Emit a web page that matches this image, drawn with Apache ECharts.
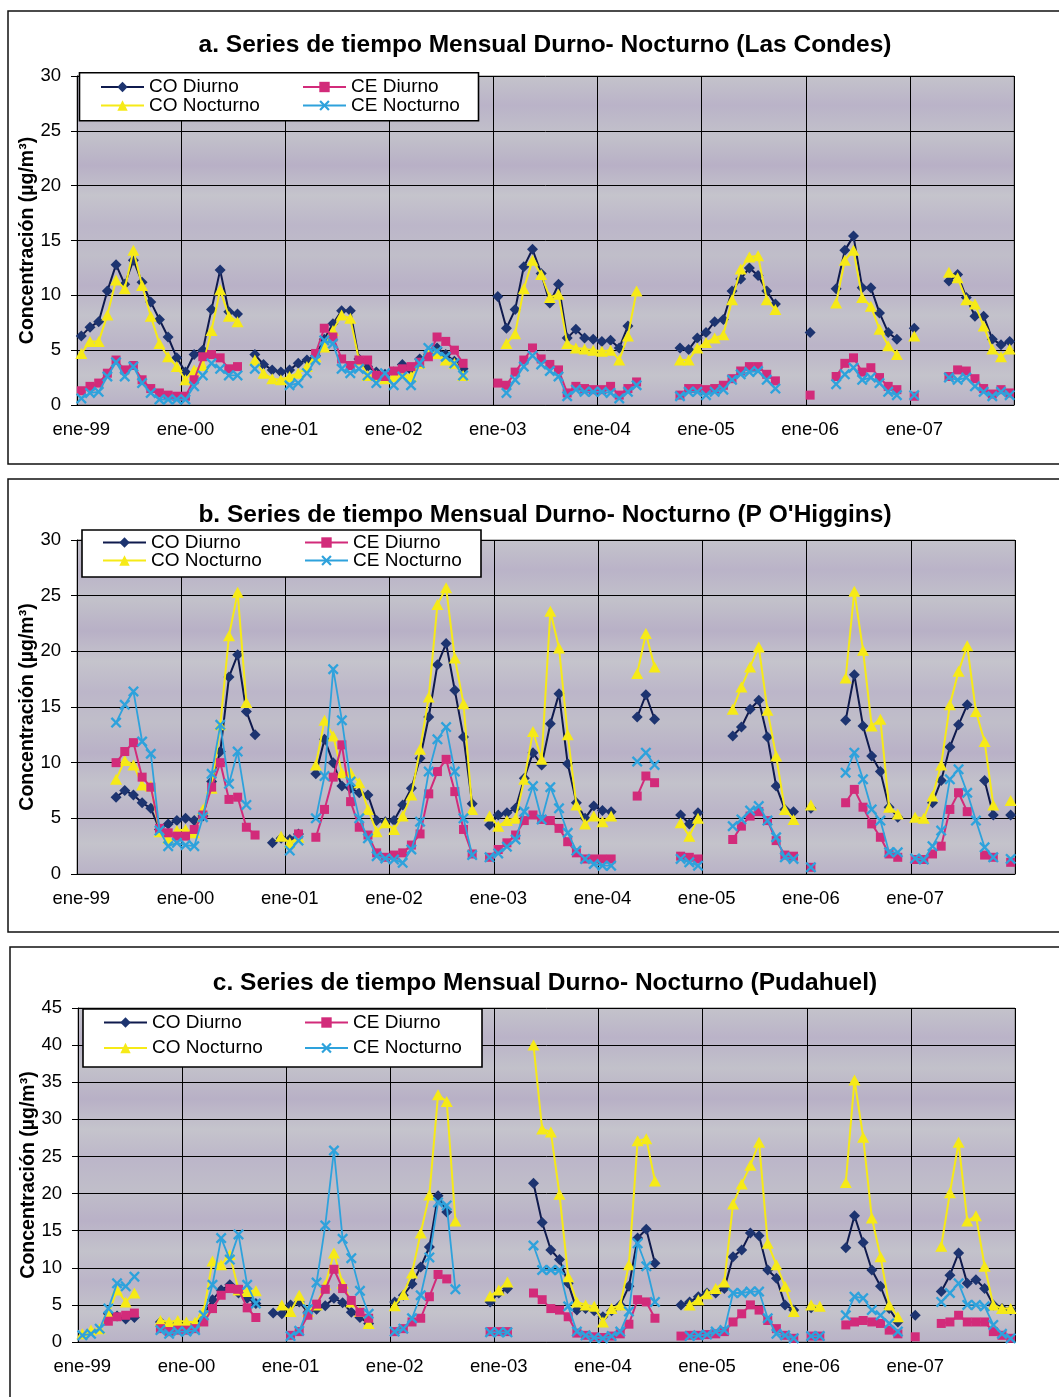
<!DOCTYPE html>
<html>
<head>
<meta charset="utf-8">
<script src="https://cdn.jsdelivr.net/npm/echarts@6/dist/echarts.min.js"></script>
<style>
  html, body { margin: 0; padding: 0; background: #ffffff; }
  #chart { width: 1059px; height: 1397px; }
</style>
</head>
<body>
<div id="chart"></div>
<script>
// Monthly day / night concentrations, January 1999 - December 2007 (null = no data)
const _ = null;
const monthNames = ['ene', 'feb', 'mar', 'abr', 'may', 'jun', 'jul', 'ago', 'sep', 'oct', 'nov', 'dic'];
const yearCodes = ['99', '00', '01', '02', '03', '04', '05', '06', '07'];
const categories = yearCodes.flatMap(y => monthNames.map(m => m + '-' + y));
const seriesNames = ['CO Diurno', 'CO Nocturno', 'CE Diurno', 'CE Nocturno'];

const titles = [
  'a. Series de tiempo Mensual Durno- Nocturno (Las Condes)',
  "b. Series de tiempo Mensual Durno- Nocturno (P O'Higgins)",
  'c. Series de tiempo Mensual Durno- Nocturno (Pudahuel)'
];
const yAxisTitle = 'Concentración (µg/m³)';
const yMaxA = 30, yMaxB = 30, yMaxC = 45, yStep = 5;

// ---- a. Las Condes ----
const coDiurnoA = [
  6.3, 7.1, 7.6, 10.4, 12.8, 11.0, 13.2, 11.2, 9.4, 7.8, 6.2, 4.3,
  3.0, 4.6, 5.0, 8.7, 12.3, 8.5, 8.3, _, 4.6, 3.7, 3.2, 3.0,
  3.2, 3.8, 4.1, 4.5, 6.0, 7.4, 8.6, 8.6, 4.2, 3.5, 3.0, 2.8,
  3.0, 3.7, 3.2, 4.2, 4.6, 5.2, 4.6, 4.0, 3.3, _, _, _,
  9.9, 7.0, 8.7, 12.6, 14.2, 12.0, 9.3, 11.0, 6.1, 6.9, 6.1, 6.0,
  5.8, 5.9, 5.2, 7.2, _, _, _, _, _, 5.2, 5.05, 6.1,
  6.6, 7.6, 7.8, 10.4, 11.5, 12.5, 11.8, 10.4, 9.2, _, _, _,
  6.6, _, _, 10.6, 14.1, 15.4, 10.7, 10.7, 8.4, 6.6, 6.0, _,
  7.0, _, _, _, 11.3, 11.9, 9.8, 8.1, 8.1, 6.0, 5.5, 5.8
];
const coNocturnoA = [
  4.7, 5.8, 5.8, 8.2, 11.4, 10.6, 14.1, 10.9, 8.1, 5.6, 4.4, 3.5,
  2.3, 3.2, 3.6, 6.8, 10.5, 8.1, 7.6, _, 4.1, 2.9, 2.4, 2.3,
  2.6, 2.9, 3.5, 4.4, 5.3, 6.8, 8.2, 7.9, 4.1, 2.7, 2.7, 2.4,
  2.6, 2.9, 2.6, 3.8, 4.9, 4.7, 4.1, 3.8, 2.7, _, _, _,
  _, 5.6, 6.5, 10.6, 13.2, 11.9, 9.8, 10.1, 5.6, 5.2, 5.1, 5.0,
  4.9, 5.0, 4.1, 6.3, 10.4, _, _, _, _, 4.1, 4.1, 5.2,
  5.7, 6.1, 6.4, 9.6, 12.4, 13.5, 13.6, 9.6, 8.7, _, _, _,
  _, _, _, 9.3, 13.2, 14.1, 9.8, 9.0, 6.9, 5.4, 4.6, _,
  6.3, _, _, _, 12.1, 11.6, 9.6, 9.2, 7.2, 5.1, 4.4, 5.1
];
const ceDiurnoA = [
  1.3, 1.7, 2.0, 2.9, 4.1, 3.2, 3.6, 2.3, 1.5, 1.1, 0.9, 0.8,
  0.8, 2.3, 4.4, 4.6, 4.3, 3.3, 3.5, _, _, _, _, _,
  _, _, _, 4.7, 7.0, 6.2, 4.2, 3.6, 4.1, 4.1, 2.7, 2.6,
  3.1, 3.3, 3.5, 3.9, 4.4, 6.2, 5.8, 5.0, 3.8, _, _, _,
  2.0, 1.8, 3.0, 4.1, 5.2, 4.2, 3.7, 3.2, 1.1, 1.7, 1.5, 1.4,
  1.4, 1.7, 0.9, 1.5, 2.1, _, _, _, _, 0.9, 1.5, 1.5,
  1.4, 1.5, 1.8, 2.4, 3.1, 3.5, 3.5, 2.8, 2.2, _, _, _,
  0.9, _, _, 2.6, 3.8, 4.3, 3.0, 3.4, 2.5, 1.7, 1.4, _,
  0.8, _, _, _, 2.6, 3.2, 3.1, 2.4, 1.5, 1.0, 1.4, 1.1
];
const ceNocturnoA = [
  0.6, 1.1, 1.2, 2.6, 3.9, 2.6, 3.5, 2.0, 1.1, 0.5, 0.5, 0.5,
  0.5, 1.7, 2.7, 3.8, 3.3, 2.7, 2.7, _, 3.3, _, _, _,
  1.8, 2.0, 2.9, 4.1, 5.9, 5.6, 3.3, 2.9, 3.3, 2.7, 2.0, 2.9,
  1.8, 2.6, 1.8, 3.8, 5.2, 4.9, 4.4, 3.8, 2.7, _, _, _,
  _, 1.1, 2.3, 3.5, 4.5, 3.7, 3.1, 2.6, 0.8, 1.4, 1.2, 1.2,
  1.2, 1.1, 0.6, 1.2, 1.8, _, _, _, _, 0.8, 1.2, 1.2,
  0.9, 1.2, 1.4, 2.3, 2.8, 3.0, 3.1, 2.3, 1.5, _, _, _,
  _, _, _, 1.9, 2.8, 3.4, 2.3, 2.5, 2.0, 1.2, 0.9, _,
  0.9, _, _, _, 2.5, 2.3, 2.5, 1.7, 1.2, 0.8, 1.2, 0.9
];

// ---- b. P O'Higgins ----
const coDiurnoB = [
  _, _, _, _, 6.9, 7.5, 7.1, 6.4, 5.9, 4.0, 4.5, 4.8,
  5.0, 4.8, 5.2, 8.3, 11.0, 17.7, 19.7, 14.6, 12.5, _, 2.8, 3.2,
  3.1, 3.6, _, 9.0, 12.1, 10.0, 7.9, 7.7, 7.3, 7.1, 4.8, 4.7,
  4.8, 6.2, 7.7, 10.4, 14.1, 18.8, 20.7, 16.5, 12.3, 6.3, _, 4.4,
  5.3, 5.5, 5.9, 8.6, 10.9, 9.8, 13.5, 16.2, 9.9, 6.4, 5.0, 6.1,
  5.7, 5.6, _, _, 14.1, 16.1, 13.9, _, _, 5.3, 4.5, 5.5,
  _, _, _, 12.4, 13.2, 14.8, 15.6, 12.3, 7.9, 5.8, 5.6, _,
  5.9, _, _, _, 13.8, 17.9, 13.3, 10.6, 9.2, 6.0, 5.1, _,
  _, _, 6.4, 8.4, 11.4, 13.4, 15.2, _, 8.4, 5.3, _, 5.3
];
const coNocturnoB = [
  _, _, _, _, 8.5, 10.2, 9.8, 8.0, 7.9, 3.8, 3.2, 3.9,
  4.0, 3.7, 5.8, 7.7, 13.4, 21.4, 25.3, 15.4, _, _, _, 3.4,
  2.8, 3.3, _, 9.8, 13.8, 12.4, 9.1, 9.1, 8.2, 5.8, 3.8, 4.6,
  4.0, 5.2, 7.1, 11.2, 15.9, 24.2, 25.7, 19.4, 15.3, 5.8, _, 5.2,
  4.3, 4.8, 5.0, 8.5, 12.8, 10.3, 23.6, 20.3, 12.5, 6.2, 4.5, 5.2,
  4.7, 5.2, _, _, 18.0, 21.6, 18.6, _, _, 4.6, 3.4, 5.0,
  _, _, _, 14.8, 16.8, 18.6, 20.4, 14.7, 10.6, 5.8, 4.9, _,
  6.2, _, _, _, 17.6, 25.4, 20.1, 13.3, 13.9, 6.0, 5.4, _,
  5.1, 5.0, 7.0, 9.8, 15.2, 18.2, 20.5, 14.6, 11.9, 6.2, _, 6.6
];
const ceDiurnoB = [
  _, _, _, _, 10.0, 11.0, 11.8, 8.7, 7.8, 4.1, 3.7, 3.4,
  3.4, 4.0, 5.3, 7.8, 10.0, 6.7, 6.9, 4.2, 3.5, _, _, _,
  _, 3.6, _, 3.3, 5.8, 8.7, 11.6, 6.5, 4.2, 3.5, 1.9, 1.5,
  1.7, 1.9, 2.6, 3.6, 7.2, 9.2, 10.3, 7.4, 4.0, 1.8, _, 1.5,
  2.2, 2.8, 3.5, 4.8, 5.3, 4.9, 4.8, 4.1, 2.9, 1.9, 1.35, 1.35,
  1.35, 1.35, _, _, 7.0, 8.8, 8.2, _, _, 1.6, 1.5, 1.35,
  _, _, _, 3.1, 4.3, 5.2, 5.6, 4.8, 3.0, 1.7, 1.6, _,
  0.6, _, _, _, 6.4, 7.6, 6.0, 4.5, 3.3, 1.8, 1.5, _,
  1.3, 1.3, 1.8, 2.5, 5.8, 7.3, 5.6, _, 1.7, 1.5, _, 1.05
];
const ceNocturnoB = [
  _, _, _, _, 13.6, 15.2, 16.4, 11.9, 10.8, 3.9, 2.5, 2.8,
  2.6, 2.5, 5.1, 9.0, 13.4, 8.1, 11.0, 6.2, _, _, _, _,
  2.1, 3.0, _, 5.0, 8.8, 18.4, 13.8, 8.3, 5.0, 3.2, 1.6, 1.4,
  1.3, 1.0, 2.2, 4.7, 9.2, 12.1, 13.2, 9.2, 5.0, 1.7, _, 1.5,
  1.85, 2.45, 3.1, 5.6, 7.9, 4.9, 7.8, 5.9, 3.7, 2.1, 1.35, 0.9,
  0.75, 0.75, _, _, 10.1, 10.9, 9.8, _, _, 1.35, 1.05, 0.75,
  _, _, _, 4.3, 4.9, 5.7, 6.1, 4.8, 3.3, 1.5, 1.35, _,
  0.6, _, _, _, 9.1, 10.9, 8.5, 5.8, 4.8, 1.95, 1.95, _,
  1.4, 1.3, 2.5, 3.9, 8.5, 9.4, 7.3, 4.8, 2.4, 1.5, _, 1.35
];

// ---- c. Pudahuel ----
const coDiurnoC = [
  _, _, _, 3.8, 3.5, 3.1, 3.3, _, _, 2.7, 2.3, 2.5,
  2.3, 2.3, 3.6, 5.7, 7.0, 7.7, 6.6, 5.9, 5.2, _, 3.9, 3.8,
  5.0, 5.4, 4.0, 4.4, 4.9, 5.9, 5.3, 4.0, 3.3, 2.5, _, _,
  5.4, 6.3, 7.8, 10.1, 12.8, 19.7, 17.5, _, _, _, _, 5.4,
  6.6, 7.2, _, _, 21.4, 16.1, 12.4, 11.1, 7.9, 4.3, 4.5, 4.2,
  3.4, 4.2, 5.0, 7.5, 14.0, 15.2, 10.6, _, _, 5.0, 5.4, 6.1,
  6.6, 6.6, 7.2, 11.5, 12.4, 14.7, 14.3, 9.7, 8.6, 5.0, 4.3, _,
  4.6, _, _, _, 12.7, 17.0, 13.4, 9.7, 7.5, 4.5, 2.7, _,
  3.6, _, _, 6.8, 9.0, 12.0, 7.9, 8.4, 7.2, 5.0, 4.5, 4.3
];
const coNocturnoC = [
  1.1, 1.6, 1.8, 3.8, 7.0, 5.4, 6.6, _, _, 2.9, 2.7, 2.9,
  2.7, 2.7, 4.2, 10.9, 10.4, 11.8, 7.0, 6.8, 6.9, _, _, 5.0,
  4.1, 6.3, 4.1, 5.0, 7.7, 12.0, 7.9, 5.4, 4.1, 2.5, _, _,
  4.9, 6.4, 9.3, 14.7, 19.8, 33.3, 32.4, 16.3, _, _, _, 6.2,
  7.0, 8.1, _, _, 40.0, 28.7, 28.3, 19.9, 8.8, 5.4, 5.0, 4.8,
  2.7, 4.5, 5.0, 10.4, 27.1, 27.4, 21.7, _, _, _, 5.0, 5.7,
  6.5, 7.2, 8.1, 18.6, 21.3, 23.8, 26.9, 13.3, 10.4, 7.5, 4.1, _,
  5.0, 4.8, _, _, 21.5, 35.3, 27.6, 16.7, 11.5, 5.0, 3.4, _,
  _, _, _, 12.9, 20.1, 26.9, 16.3, 17.0, 10.2, 5.0, 4.5, 4.5
];
const ceDiurnoC = [
  _, _, _, 2.8, 3.4, 3.6, 3.9, _, _, 1.8, 1.4, 1.6,
  1.6, 1.8, 2.7, 4.5, 6.3, 7.2, 7.1, 4.6, 3.3, _, _, _,
  0.9, 1.4, 3.6, 5.1, 7.1, 9.8, 7.2, 5.6, 4.0, 3.2, _, _,
  1.4, 1.8, 2.7, 3.2, 6.1, 9.1, 8.5, _, _, _, _, 1.4,
  1.4, 1.4, _, _, 6.6, 5.7, 4.5, 4.3, 3.4, 1.2, 0.9, 0.7,
  0.6, 0.8, 1.1, 2.4, 5.7, 5.4, 3.2, _, _, 0.8, 0.9, 0.9,
  1.0, 1.1, 1.4, 2.7, 3.8, 5.0, 4.3, 2.9, 1.8, 0.9, 0.5, _,
  0.8, 0.8, _, _, 2.3, 2.7, 2.9, 2.7, 2.5, 1.6, 1.1, _,
  0.7, _, _, 2.5, 2.7, 3.6, 2.7, 2.7, 2.7, 1.4, 0.9, 0.5
];
const ceNocturnoC = [
  0.9, 1.1, 1.8, 4.5, 7.9, 7.5, 8.8, _, _, 1.6, 1.1, 1.4,
  1.4, 1.6, 3.6, 7.7, 14.0, 11.1, 14.5, 7.7, 5.2, _, _, _,
  0.8, 1.5, 4.4, 8.0, 15.7, 25.8, 13.9, 11.3, 6.9, 3.8, _, _,
  1.4, 1.8, 3.2, 6.3, 11.4, 18.8, 18.4, 7.1, _, _, _, 1.3,
  1.3, 1.3, _, _, 13.0, 9.7, 9.7, 9.7, 4.8, 1.4, 0.9, 0.6,
  0.5, 0.8, 1.4, 4.1, 13.3, 10.2, 5.4, _, _, _, 0.8, 0.9,
  1.0, 1.4, 1.6, 6.6, 6.6, 6.8, 6.8, 3.2, 1.1, 0.9, 0.5, _,
  0.8, 0.8, _, _, 3.6, 6.1, 5.9, 4.3, 3.6, 2.5, 1.4, _,
  _, _, _, 5.4, 6.6, 7.9, 5.0, 5.0, 4.8, 2.3, 1.1, 0.5
];

// ---- layout of the three stacked panels ----
const FONT = '"Liberation Sans", Arial, Helvetica, sans-serif';
const panels = [
  { title: titles[0], titleTop: 28, yMax: yMaxA,
    grid: { left: 77, top: 76, width: 937, height: 329 },
    frame: [8, 11, 1060, 453],
    legendBox: [79.5, 72.7, 399, 48], legendRows: [77.5, 96], legendCols: [100, 302],
    values: [coDiurnoA, coNocturnoA, ceDiurnoA, ceNocturnoA] },
  { title: titles[1], titleTop: 498, yMax: yMaxB,
    grid: { left: 77, top: 540, width: 938, height: 334 },
    frame: [8, 479, 1060, 453],
    legendBox: [82, 530, 399, 47], legendRows: [533, 551], legendCols: [102, 304],
    values: [coDiurnoB, coNocturnoB, ceDiurnoB, ceNocturnoB] },
  { title: titles[2], titleTop: 966, yMax: yMaxC,
    grid: { left: 78, top: 1008, width: 937, height: 334 },
    frame: [10, 947, 1060, 460],
    legendBox: [83, 1009, 399, 58], legendRows: [1013, 1038.5], legendCols: [103, 304],
    values: [coDiurnoC, coNocturnoC, ceDiurnoC, ceNocturnoC] }
];

// marker / line styles per series (same order as seriesNames)
const crossPath = 'path://M0,1.5 L1.5,0 L5,3.5 L8.5,0 L10,1.5 L6.5,5 L10,8.5 L8.5,10 L5,6.5 L1.5,10 L0,8.5 L3.5,5 Z';
const seriesStyles = [
  { symbol: 'diamond', symbolSize: 11, line: '#0f1a4d', lineWidth: 2, marker: '#1d3470' },
  { symbol: 'triangle', symbolSize: [12, 11], line: '#f6ea17', lineWidth: 2, marker: '#f6ea17' },
  { symbol: 'rect', symbolSize: 9, line: '#d22b7a', lineWidth: 2, marker: '#d22b7a' },
  { symbol: crossPath, symbolSize: 11, line: '#2ea2dc', lineWidth: 1.8, marker: '#2ea2dc' }
];

// soft horizontal banding of the grey plot area
const bandTones = ['#c4c3cb', '#bab3c8', '#c2c1ca', '#b8b0c6', '#c5c4cc', '#bcb6c9',
                   '#c0bec9', '#b9b1c7', '#c3c2cb', '#bbb4c8', '#c4c3cb', '#b9b2c7'];
const plotFill = {
  type: 'linear', x: 0, y: 0, x2: 0, y2: 1,
  colorStops: bandTones.map((c, i) => ({ offset: i / (bandTones.length - 1), color: c }))
};

const grid = [], xAxis = [], yAxis = [], series = [], legend = [], title = [], graphic = [];

panels.forEach((p, k) => {
  title.push({
    text: p.title, left: 540, top: p.titleTop, textAlign: 'center',
    textStyle: { fontFamily: FONT, fontSize: 24.5, fontWeight: 'bold', color: '#000' }
  });
  graphic.push({
    type: 'rect', z: 0, silent: true,
    shape: { x: p.frame[0], y: p.frame[1], width: p.frame[2], height: p.frame[3] },
    style: { fill: 'none', stroke: '#111', lineWidth: 1.5 }
  });
  graphic.push({
    type: 'rect', z: 3, silent: true,
    shape: { x: p.legendBox[0], y: p.legendBox[1], width: p.legendBox[2], height: p.legendBox[3] },
    style: { fill: '#ffffff', stroke: '#000', lineWidth: 1.6 }
  });
  grid.push(Object.assign({ show: true, backgroundColor: plotFill, borderColor: '#7d7d7d', borderWidth: 1 }, p.grid));
  xAxis.push({
    type: 'category', gridIndex: k, data: categories, boundaryGap: true,
    axisLine: { lineStyle: { color: '#000', width: 1 } },
    axisTick: { interval: 11, length: 6, lineStyle: { color: '#000' } },
    axisLabel: { interval: 11, fontFamily: FONT, fontSize: 18.5, color: '#000', margin: 15 },
    splitLine: { show: true, interval: 11, lineStyle: { color: '#000', width: 1 } }
  });
  yAxis.push({
    type: 'value', gridIndex: k, min: 0, max: p.yMax, interval: yStep,
    axisLine: { show: true, lineStyle: { color: '#000', width: 1 } },
    axisTick: { show: true, length: 6, lineStyle: { color: '#000' } },
    axisLabel: { fontFamily: FONT, fontSize: 18.5, color: '#000', margin: 16 },
    splitLine: { show: true, lineStyle: { color: '#000', width: 1 } },
    name: yAxisTitle, nameLocation: 'middle', nameGap: 39, nameMoveOverlap: false,
    nameTextStyle: { fontFamily: FONT, fontSize: 19.5, fontWeight: 'bold', color: '#000' }
  });
  p.values.forEach((vals, s) => {
    const st = seriesStyles[s];
    series.push({
      name: seriesNames[s], type: 'line', xAxisIndex: k, yAxisIndex: k, data: vals,
      symbol: st.symbol, symbolSize: st.symbolSize, showAllSymbol: true, showSymbol: true,
      connectNulls: false, z: 2 + s * 0.1,
      lineStyle: { color: st.line, width: st.lineWidth },
      itemStyle: { color: st.marker },
      emphasis: { disabled: true }
    });
  });
  // two rows x two columns of legend entries inside the white box
  const slots = [[0, 0], [1, 0], [0, 1], [1, 1]]; // [row, col] for each series
  slots.forEach((rc, s) => {
    legend.push({
      data: [seriesNames[s]], left: p.legendCols[rc[1]], top: p.legendRows[rc[0]],
      padding: 0, itemWidth: 43, itemHeight: 13, selectedMode: false, z: 5,
      textStyle: { fontFamily: FONT, fontSize: 19, color: '#000' }
    });
  });
});

const chart = echarts.init(document.getElementById('chart'), null, { renderer: 'canvas' });
chart.setOption({
  backgroundColor: '#ffffff',
  animation: false,
  title, grid, xAxis, yAxis, series, legend, graphic
});
</script>
</body>
</html>
